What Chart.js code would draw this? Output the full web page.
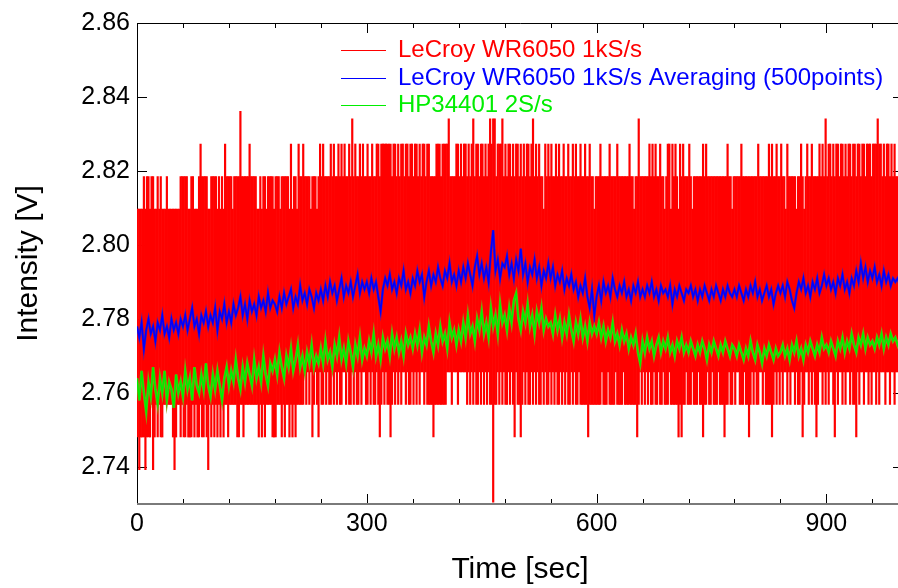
<!DOCTYPE html>
<html>
<head>
<meta charset="utf-8">
<script src="https://cdn.jsdelivr.net/npm/chart.js@4.4.1/dist/chart.umd.min.js"></script>
<style>
  html, body { margin: 0; padding: 0; overflow: hidden; background: #fff; }
</style>
</head>
<body>
<canvas id="chart" width="910" height="588"></canvas>
<script>
// axis ranges and ticks
const xMin = 0, xMax = 1000;
const yMin = 2.73, yMax = 2.86;
const xTickValues = [0, 60, 120, 180, 240, 300, 360, 420, 480, 540, 600, 660, 720, 780, 840, 900, 960];
const xLabelValues = [0, 300, 600, 900];
const yTickValues = [2.74, 2.76, 2.78, 2.80, 2.82, 2.84, 2.86];

const seriesLabels = ['LeCroy WR6050 1kS/s', 'LeCroy WR6050 1kS/s Averaging (500points)', 'HP34401 2S/s'];

// LeCroy 1kS/s raw: quantised, read as min/max level per 2 s bin, one string per 100 s
const redBinSeconds = 2;
const redLevels = {
  '0': 2.7305, '1': 2.7393, '2': 2.7481, '3': 2.7569, '4': 2.7657,
  '9': 2.8097, 'a': 2.8185, 'b': 2.8273, 'c': 2.8341, 'd': 2.8361
};
const redTop = [
  '9999a9aa9a a99a9a999a 99999999aa aaa99aa999 abaaaa99aa',
  'aa9a9a9baa aa9aaaadaa aaabaaaa99 a9aa9aaaa9 aaa9aaaaa9',
  'b9aa9baaba aaa9aaa9ab abaaaababa abababaaba cabaababaa',
  'baabaabbab bbbbbbabba babbabbabb abbababbab baaaabbbab',
  'bbbcaaaabb ababbababc abbabbabab cbccabbbca babbababba',
  'bababbabca babaa9baba baababaaba abaababaab aabaabaa9a',
  'aabaaaaaba aaabaaaaaa abaa9aacaa aaaabababa abaa9abb9b',
  'aba9babaaa ba9aaaaaab abaaaaaaaa aaaaabaa9a aaaabaaaaa',
  'aaaaabaaaa aababaabaa baa9baaaaa 9aaba9abaa baaaababac',
  'abbababbab bababbabba bbabbabbba bbbcbbabab bababaabab'
];
const redBottom = [
  '2122212223 1232322333 3332123323 2232223232 2322321323',
  '2323232332 3333322332 3333333332 3232333322 2333232332',
  '3232333334 3434234324 3343433434 3433443433 4343343443',
  '3434334323 4343323434 3434434334 3434344343 3332333333',
  '3344434443 4444434343 4334343434 3303343434 3343432433',
  '2343433434 3433434334 3434334343 4334343343 3333233333',
  '3334333433 3343333433 3333332343 4343433433 4334333433',
  '3332323343 3343334332 3343343334 3332334334 3443334332',
  '3434334434 3333234343 4344343443 4334234434 3432344343',
  '4344324344 3434434332 4344344343 4434344434 4344344343'
];

// LeCroy averaged (500 points), one value every 3 s from t = 0
const blueStart = 0, blueStep = 3;
const blueValues = [
  2.778, 2.775, 2.779, 2.772, 2.777, 2.780, 2.776, 2.778, 2.774, 2.779, 2.777, 2.781, 2.776, 2.778, 2.775, 2.780, 2.777, 2.779, 2.776, 2.780,
  2.778, 2.781, 2.777, 2.780, 2.783, 2.778, 2.780, 2.776, 2.781, 2.779, 2.782, 2.778, 2.781, 2.779, 2.783, 2.777, 2.782, 2.780, 2.784, 2.779,
  2.782, 2.779, 2.784, 2.781, 2.783, 2.786, 2.781, 2.784, 2.780, 2.785, 2.782, 2.784, 2.781, 2.786, 2.783, 2.785, 2.782, 2.787, 2.783, 2.785,
  2.784, 2.782, 2.786, 2.783, 2.787, 2.784, 2.786, 2.788, 2.783, 2.786, 2.784, 2.789, 2.785, 2.787, 2.784, 2.788, 2.786, 2.783, 2.787, 2.785,
  2.788, 2.785, 2.789, 2.786, 2.790, 2.787, 2.789, 2.785, 2.788, 2.791, 2.786, 2.789, 2.787, 2.790, 2.786, 2.789, 2.792, 2.787, 2.790, 2.788,
  2.790, 2.787, 2.791, 2.788, 2.790, 2.786, 2.782, 2.788, 2.791, 2.789, 2.792, 2.788, 2.790, 2.787, 2.791, 2.789, 2.793, 2.788, 2.790, 2.787,
  2.791, 2.789, 2.793, 2.790, 2.792, 2.786, 2.790, 2.793, 2.789, 2.792, 2.790, 2.794, 2.791, 2.789, 2.793, 2.791, 2.795, 2.790, 2.792, 2.789,
  2.793, 2.790, 2.794, 2.791, 2.795, 2.792, 2.789, 2.794, 2.797, 2.792, 2.795, 2.791, 2.794, 2.790, 2.798, 2.804, 2.793, 2.796, 2.791, 2.795,
  2.794, 2.797, 2.792, 2.795, 2.791, 2.796, 2.793, 2.799, 2.792, 2.795, 2.790, 2.794, 2.792, 2.796, 2.791, 2.794, 2.789, 2.793, 2.791, 2.795,
  2.791, 2.794, 2.789, 2.792, 2.790, 2.793, 2.788, 2.791, 2.789, 2.792, 2.788, 2.790, 2.786, 2.789, 2.787, 2.791, 2.786, 2.783, 2.788, 2.781,
  2.786, 2.789, 2.785, 2.790, 2.787, 2.789, 2.786, 2.791, 2.788, 2.786, 2.789, 2.787, 2.790, 2.786, 2.788, 2.785, 2.789, 2.787, 2.790, 2.786,
  2.788, 2.786, 2.789, 2.787, 2.790, 2.786, 2.788, 2.785, 2.789, 2.787, 2.788, 2.786, 2.789, 2.784, 2.788, 2.786, 2.789, 2.787, 2.785, 2.788,
  2.787, 2.789, 2.786, 2.788, 2.785, 2.788, 2.786, 2.789, 2.787, 2.785, 2.788, 2.786, 2.789, 2.787, 2.785, 2.788, 2.786, 2.789, 2.787, 2.786,
  2.788, 2.786, 2.789, 2.787, 2.785, 2.788, 2.786, 2.789, 2.787, 2.790, 2.786, 2.788, 2.785, 2.787, 2.789, 2.786, 2.788, 2.784, 2.787, 2.789,
  2.787, 2.789, 2.786, 2.790, 2.788, 2.785, 2.783, 2.787, 2.790, 2.788, 2.791, 2.787, 2.789, 2.786, 2.790, 2.788, 2.791, 2.787, 2.789, 2.792,
  2.789, 2.791, 2.788, 2.790, 2.787, 2.791, 2.789, 2.792, 2.788, 2.790, 2.787, 2.791, 2.789, 2.793, 2.790, 2.795, 2.791, 2.794, 2.790, 2.793,
  2.791, 2.794, 2.790, 2.792, 2.789, 2.793, 2.790, 2.792, 2.789, 2.791, 2.790, 2.791, 2.789, 2.792
];

// HP34401 2S/s, one value every 3 s from t = 0
const greenStart = 0, greenStep = 3;
const greenValues = [
  2.764, 2.758, 2.766, 2.760, 2.755, 2.763, 2.759, 2.767, 2.761, 2.757, 2.764, 2.760, 2.766, 2.758, 2.763, 2.761, 2.756, 2.765, 2.760, 2.763,
  2.759, 2.766, 2.761, 2.764, 2.758, 2.767, 2.762, 2.760, 2.765, 2.761, 2.768, 2.762, 2.759, 2.765, 2.761, 2.766, 2.762, 2.758, 2.764, 2.767,
  2.762, 2.766, 2.763, 2.769, 2.764, 2.761, 2.767, 2.763, 2.768, 2.765, 2.762, 2.769, 2.764, 2.767, 2.763, 2.770, 2.765, 2.762, 2.768, 2.766,
  2.769, 2.765, 2.771, 2.767, 2.764, 2.770, 2.767, 2.772, 2.766, 2.769, 2.773, 2.767, 2.770, 2.766, 2.771, 2.768, 2.773, 2.767, 2.770, 2.768,
  2.772, 2.768, 2.774, 2.769, 2.771, 2.767, 2.773, 2.770, 2.775, 2.769, 2.772, 2.768, 2.774, 2.771, 2.767, 2.773, 2.770, 2.775, 2.769, 2.772,
  2.770, 2.774, 2.771, 2.776, 2.770, 2.773, 2.769, 2.775, 2.772, 2.774, 2.770, 2.776, 2.772, 2.775, 2.771, 2.774, 2.770, 2.776, 2.773, 2.775,
  2.772, 2.776, 2.773, 2.777, 2.771, 2.775, 2.773, 2.778, 2.774, 2.771, 2.776, 2.773, 2.778, 2.774, 2.776, 2.772, 2.779, 2.775, 2.777, 2.773,
  2.777, 2.774, 2.779, 2.775, 2.781, 2.776, 2.778, 2.774, 2.780, 2.777, 2.782, 2.776, 2.779, 2.775, 2.783, 2.778, 2.781, 2.776, 2.784, 2.779,
  2.781, 2.777, 2.783, 2.779, 2.785, 2.787, 2.780, 2.777, 2.782, 2.779, 2.784, 2.778, 2.781, 2.776, 2.782, 2.779, 2.783, 2.777, 2.780, 2.778,
  2.779, 2.776, 2.781, 2.777, 2.780, 2.775, 2.779, 2.776, 2.781, 2.777, 2.774, 2.779, 2.776, 2.780, 2.775, 2.778, 2.774, 2.779, 2.776, 2.778,
  2.776, 2.779, 2.775, 2.778, 2.774, 2.777, 2.775, 2.779, 2.774, 2.776, 2.773, 2.777, 2.774, 2.776, 2.772, 2.775, 2.773, 2.776, 2.771, 2.768,
  2.774, 2.771, 2.775, 2.772, 2.774, 2.770, 2.773, 2.775, 2.771, 2.774, 2.772, 2.775, 2.771, 2.773, 2.770, 2.774, 2.772, 2.775, 2.771, 2.773,
  2.771, 2.774, 2.772, 2.770, 2.773, 2.771, 2.774, 2.772, 2.769, 2.773, 2.771, 2.774, 2.772, 2.770, 2.773, 2.771, 2.774, 2.772, 2.770, 2.773,
  2.772, 2.770, 2.773, 2.771, 2.769, 2.772, 2.770, 2.774, 2.771, 2.769, 2.773, 2.771, 2.768, 2.772, 2.770, 2.773, 2.771, 2.769, 2.772, 2.770,
  2.771, 2.773, 2.770, 2.772, 2.769, 2.773, 2.771, 2.774, 2.770, 2.772, 2.769, 2.773, 2.771, 2.774, 2.772, 2.770, 2.773, 2.771, 2.775, 2.772,
  2.773, 2.771, 2.774, 2.772, 2.770, 2.774, 2.772, 2.775, 2.771, 2.774, 2.772, 2.776, 2.773, 2.771, 2.775, 2.773, 2.776, 2.772, 2.775, 2.773,
  2.774, 2.772, 2.775, 2.773, 2.776, 2.772, 2.775, 2.773, 2.776, 2.774, 2.775, 2.773, 2.775, 2.774
];

const FONT = '"Liberation Sans", Arial, Helvetica, sans-serif';
const RED = '#ff0000', BLUE = '#0000ff', GREEN = '#00ee00';
const BLUE_EDGE = '#5a1a9e', GREEN_EDGE = '#8c9a10';

function redBars() {
  const out = [];
  redTop.forEach((chunk, k) => {
    const top = chunk.replace(/ /g, '');
    const bot = redBottom[k].replace(/ /g, '');
    for (let j = 0; j < top.length; j++) {
      out.push({
        x: k * 100 + j * redBinSeconds + redBinSeconds / 2,
        y: [redLevels[bot[j]], redLevels[top[j]]]
      });
    }
  });
  return out;
}

function series(start, step, values) {
  return values.map((v, i) => ({x: start + i * step, y: v}));
}

function lineSet(label, data, color, width, order) {
  return {type: 'line', label, data, borderColor: color, borderWidth: width, pointRadius: 0, tension: 0, order};
}

const frame = {
  id: 'frame',
  beforeDatasetsDraw(chart) {
    const {ctx, chartArea: a, scales: {x, y}} = chart;
    ctx.save();
    ctx.strokeStyle = '#000';
    ctx.lineWidth = 1;
    ctx.beginPath();
    for (const v of xTickValues) {
      const px = Math.round(x.getPixelForValue(v)) + 0.5;
      const len = xLabelValues.includes(v) ? 10 : 5;
      ctx.moveTo(px, a.bottom);
      ctx.lineTo(px, a.bottom - len);
      ctx.moveTo(px, a.top);
      ctx.lineTo(px, a.top + len);
    }
    for (const v of yTickValues) {
      const py = Math.round(y.getPixelForValue(v)) + 0.5;
      ctx.moveTo(a.left, py);
      ctx.lineTo(a.left + 10, py);
      ctx.moveTo(a.right, py);
      ctx.lineTo(a.right - 10, py);
    }
    ctx.stroke();
    ctx.beginPath();
    ctx.moveTo(Math.round(a.left) + 0.5, a.bottom);
    ctx.lineTo(Math.round(a.left) + 0.5, Math.round(a.top) + 0.5);
    ctx.lineTo(a.right, Math.round(a.top) + 0.5);
    ctx.stroke();
    ctx.strokeStyle = '#7a7a7a';
    ctx.lineWidth = 2;
    ctx.beginPath();
    ctx.moveTo(a.left, Math.round(a.bottom));
    ctx.lineTo(a.right, Math.round(a.bottom));
    ctx.stroke();
    ctx.restore();
  }
};

const legendBox = {
  id: 'legendBox',
  afterDraw(chart) {
    const {ctx} = chart;
    const colors = [RED, BLUE, GREEN];
    const rows = [50, 78, 105];
    ctx.save();
    ctx.font = '24px ' + FONT;
    ctx.textBaseline = 'middle';
    seriesLabels.forEach((label, i) => {
      ctx.strokeStyle = colors[i];
      ctx.lineWidth = 1;
      ctx.beginPath();
      ctx.moveTo(341, rows[i] + 0.5);
      ctx.lineTo(386, rows[i] + 0.5);
      ctx.stroke();
      ctx.fillStyle = colors[i];
      ctx.fillText(label, 398, rows[i]);
    });
    ctx.restore();
  }
};

const blueData = series(blueStart, blueStep, blueValues);
const greenData = series(greenStart, greenStep, greenValues);

new Chart(document.getElementById('chart'), {
  type: 'bar',
  data: {
    datasets: [
      {
        type: 'bar',
        label: seriesLabels[0],
        data: redBars(),
        backgroundColor: RED,
        borderWidth: 0,
        barPercentage: 1,
        categoryPercentage: 1,
        grouped: false,
        order: 9
      },
      lineSet('blue edge', blueData, BLUE_EDGE, 2.6, 8),
      lineSet(seriesLabels[1], blueData, BLUE, 1.6, 7),
      lineSet('green edge', greenData, GREEN_EDGE, 2.8, 6),
      lineSet(seriesLabels[2], greenData, GREEN, 1.6, 5)
    ]
  },
  options: {
    responsive: false,
    animation: false,
    events: [],
    layout: {padding: {left: 0, right: 7, top: 23, bottom: 0}},
    plugins: {legend: {display: false}, tooltip: {enabled: false}},
    scales: {
      x: {
        type: 'linear',
        min: xMin,
        max: xMax,
        offset: false,
        grid: {display: false, drawTicks: false, offset: false},
        border: {display: false},
        afterBuildTicks: s => { s.ticks = xTickValues.map(v => ({value: v})); },
        afterFit: s => { s.height = 84; },
        ticks: {
          autoSkip: false,
          maxRotation: 0,
          padding: 5,
          color: '#000',
          font: {family: FONT, size: 25},
          callback: v => (xLabelValues.includes(v) ? String(v) : '')
        },
        title: {display: true, text: 'Time [sec]', color: '#000', font: {family: FONT, size: 30}, padding: {top: 0, bottom: 0}}
      },
      y: {
        type: 'linear',
        min: yMin,
        max: yMax,
        grid: {display: false, drawTicks: false},
        border: {display: false},
        afterBuildTicks: s => { s.ticks = yTickValues.map(v => ({value: v})); },
        afterFit: s => { s.width = 137; },
        ticks: {
          padding: 7,
          color: '#000',
          font: {family: FONT, size: 25},
          callback: v => v.toFixed(2)
        },
        title: {display: true, text: 'Intensity [V]', color: '#000', font: {family: FONT, size: 30}, padding: {top: 11, bottom: 0}}
      }
    }
  },
  plugins: [frame, legendBox]
});
</script>
</body>
</html>
